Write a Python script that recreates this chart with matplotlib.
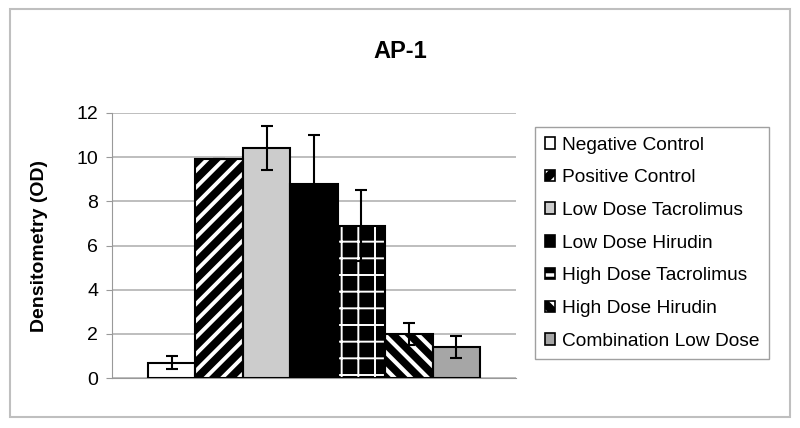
import numpy as np
import matplotlib
matplotlib.use('Agg')
from matplotlib import pyplot as plt
from matplotlib.patches import Rectangle, Patch
from matplotlib.legend_handler import HandlerTuple

plt.rcParams['font.family'] = ['Liberation Sans', 'DejaVu Sans']
plt.rcParams['hatch.linewidth'] = 2.5

groups = ['Negative Control', 'Positive Control', 'Low Dose Tacrolimus',
          'Low Dose Hirudin', 'High Dose Tacrolimus', 'High Dose Hirudin',
          'Combination Low Dose']
values = [0.7, 9.9, 10.4, 8.8, 6.9, 2.0, 1.4]
errors = [0.3, 0.0, 1.0, 2.2, 1.6, 0.5, 0.5]
colors = ['white', 'black', '#cccccc', 'black', 'black', 'black', '#a6a6a6']
hatches = [None, '//', None, None, '+', '\\\\', None]
hatch_lw = [1, 2.8, 1, 1, 1.4, 3.0, 1]
yticks = [0, 2, 4, 6, 8, 10, 12]

fig = plt.figure(figsize=(8, 4.28), dpi=100)
ax = fig.add_axes([0.14, 0.1168, 0.505, 0.6192])

x = np.arange(len(values))
handles = []
for i in range(len(values)):
    with plt.rc_context({'hatch.linewidth': hatch_lw[i]}):
        fill = ax.bar(x[i], values[i], width=1.0, color=colors[i], hatch=hatches[i],
                      edgecolor='white', linewidth=0, zorder=2)
        for p in fill:
            if hasattr(p, 'set_hatch_linewidth'):
                p.set_hatch_linewidth(hatch_lw[i])
        h1 = Patch(facecolor=colors[i], hatch=hatches[i], edgecolor='white', linewidth=0)
    ax.bar(x[i], values[i], width=1.0, fill=False, edgecolor='black',
           linewidth=1.5, zorder=3)
    h2 = Patch(fill=False, edgecolor='black', linewidth=1.2)
    handles.append((h1, h2))

ax.errorbar(x, values, yerr=errors, fmt='none', ecolor='black', elinewidth=1.5,
            capsize=4, capthick=1.5, zorder=4)

ax.set_xlim(-1.26, 7.26)
ax.set_ylim(0, 12)
ax.set_yticks(yticks)
ax.set_xticks([])
ax.yaxis.grid(True, color='#b3b3b3', linewidth=1.2, zorder=0)
ax.set_axisbelow(True)
for s in ['top', 'right']:
    ax.spines[s].set_visible(False)
ax.spines['left'].set_color('#999999')
ax.spines['bottom'].set_color('#999999')
ax.tick_params(axis='y', colors='#999999', labelcolor='black', labelsize=14,
               length=4, pad=6)
ax.set_ylabel('Densitometry (OD)', fontsize=14, fontweight='bold')
ax.yaxis.set_label_coords(-0.158, 0.5)

fig.text(0.5, 1 - 51 / 428, 'AP-1', fontsize=17, fontweight='bold',
         ha='center', va='center')

leg = fig.legend(handles, groups, loc='upper left',
                 bbox_to_anchor=(535 / 800, 1 - 127 / 428),
                 bbox_transform=fig.transFigure, borderaxespad=0,
                 fontsize=13.8, frameon=True, fancybox=False,
                 handlelength=0.55, handleheight=0.55, handletextpad=0.35,
                 labelspacing=0.82, borderpad=0.5,
                 handler_map={tuple: HandlerTuple(ndivide=1, pad=0)})
leg.get_frame().set_edgecolor('#888888')
leg.get_frame().set_linewidth(1.0)

fig.patches.append(Rectangle((10 / 800, 1 - 417 / 428), 780 / 800, 408 / 428,
                             transform=fig.transFigure, fill=False,
                             edgecolor='#bfbfbf', linewidth=1.5))

fig.savefig('out.png', dpi=100)
